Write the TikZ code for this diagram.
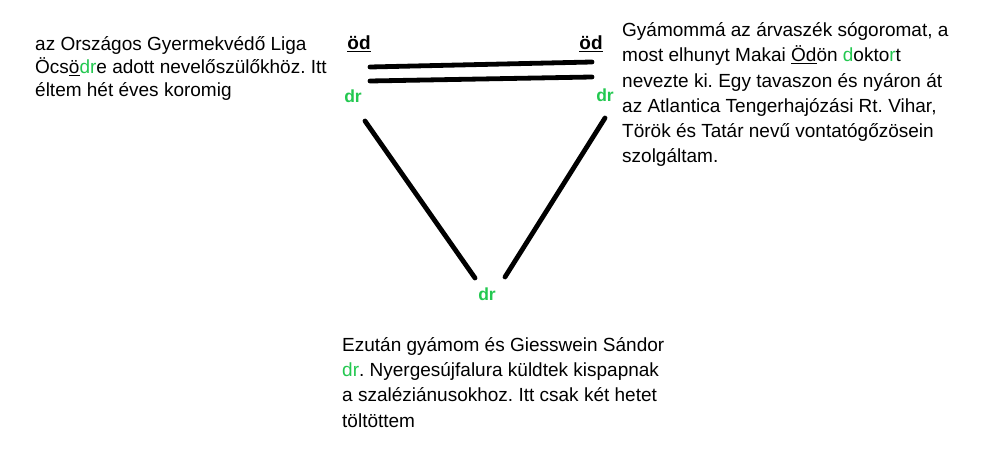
\documentclass[tikz,border=0pt]{standalone}
\usepackage{fontspec}
\setmainfont{Liberation Sans}
\usepackage{tikz}
\usepackage{xcolor}
\usetikzlibrary{calc,positioning}
\definecolor{drgreen}{RGB}{35,200,80}
\newcommand{\grn}[1]{\textcolor{drgreen}{#1}}
\frenchspacing

\begin{document}
\begin{tikzpicture}[
  x=1pt, y=-1pt,
  story/.style={align=left, inner sep=0pt, anchor=base west, font=\fontsize{19}{25.3}\selectfont},
  od/.style={inner sep=0pt, anchor=base, font=\fontsize{19}{22}\selectfont\bfseries},
  tag/.style={inner sep=0pt, anchor=base, text=drgreen, font=\fontsize{17.5}{20}\selectfont\bfseries},
  link/.style={line width=4.8pt, line cap=round}
]
\useasboundingbox[fill=white] (0,0) rectangle (985,470);
\node[story, font=\fontsize{19}{23}\selectfont] (ocsod) at (35,97) {az Országos Gyermekvédő Liga\\Öcs\underline{ö}\grn{dr}e adott nevelőszülőkhöz. Itt\\éltem hét éves koromig};
\node[story] (makai) at (622,163) {Gyámommá az árvaszék sógoromat, a\\most elhunyt Makai \underline{Öd}ön \grn{d}okto\grn{r}t\\nevezte ki. Egy tavaszon és nyáron át\\az Atlantica Tengerhajózási Rt. Vihar,\\Török és Tatár nevű vontatógőzösein\\szolgáltam.};
\node[story] (giess) at (342,427) {Ezután gyámom és Giesswein Sándor\\\grn{dr}. Nyergesújfalura küldtek kispapnak\\a szaléziánusokhoz. Itt csak két hetet\\töltöttem};
\node[od] (odleft) at (359,49.5) {\underline{öd}};
\node[od] (odright) at (591,49.5) {\underline{öd}};
\node[tag] (drleft) at (353,102.7) {dr};
\node[tag] (drright) at (605,101.5) {dr};
\node[tag] (drbottom) at (487,301) {dr};
\draw[link] ($(odleft.base)+(11,17.5)$) -- ($(odright.base)+(1,12.5)$);
\draw[link] ($(odleft.base)+(11,31.5)$) -- ($(odright.base)+(1,27.5)$);
\draw[link] ($(drleft.base)+(12,18.3)$) -- ($(drbottom.base)+(-12,-23)$);
\draw[link] ($(drright.base)+(0,16.5)$) -- ($(drbottom.base)+(18,-24)$);
\end{tikzpicture}
\end{document}
